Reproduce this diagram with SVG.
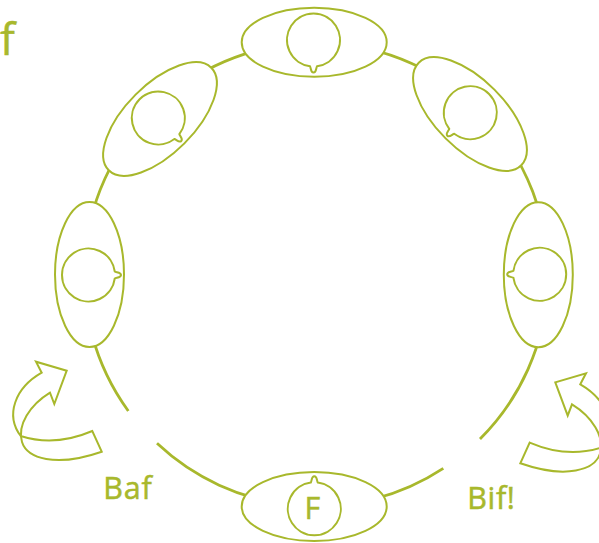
<svg xmlns="http://www.w3.org/2000/svg" xmlns:xlink="http://www.w3.org/1999/xlink" width="599" height="543" viewBox="0 0 599 543">
<style>
.ring{fill:none;stroke:#a8b82c;stroke-width:2.8}
.shell{fill:#ffffff;stroke:#a8b82c;stroke-width:2}
.bub{fill:none;stroke:#a8b82c;stroke-width:2}
.arr{fill:none;stroke:#a8b82c;stroke-width:2;stroke-linejoin:miter}
.lbl{font-family:"Open Sans","Liberation Sans",sans-serif;fill:#a8b82c;stroke:#a8b82c;stroke-width:0.5}
</style>
<defs>
<path id="bubble" d="M 3.5,26.27 A 26.5 26.5 0 1 0 -3.5,26.27 C -2.5,27.5 -3,32.5 0,32.5 C 3,32.5 2.5,27.5 3.5,26.27 Z"/>
<path id="curl" d="M 41.7,372.7 L 36,361.7 L 66.7,370.7 L 54.3,404 L 50,392.7 C 30,405 17,425 22,442 C 27,458 55,468 101.7,451.7 L 92.3,431 Q 55,447 20.7,436 C 5,415 15,388 41.7,372.7 Z"/>
</defs>
<rect width="599" height="543" fill="#ffffff"/>
<g id="connectors">
<path class="ring" d="M 443.3,468.3 A 232 232 0 0 1 157,443.3"/>
<path class="ring" d="M 480,439 A 232 232 0 1 0 128.3,411"/>
<use href="#curl" class="arr"/>
<use href="#curl" class="arr" transform="translate(622,11.6) scale(-1,1)"/>
</g>
<g id="node-top">
<ellipse class="shell" cx="314.2" cy="42.3" rx="72.5" ry="34.5"/>
<use href="#bubble" class="bub" transform="translate(313.5,40)"/>
</g>
<g id="node-top-right">
<ellipse class="shell" cx="0" cy="0" rx="72.5" ry="34.5" transform="translate(470,114) rotate(45)"/>
<use href="#bubble" class="bub" transform="translate(470.3,112.7) rotate(45)"/>
</g>
<g id="node-right">
<ellipse class="shell" cx="538.3" cy="274.7" rx="34.5" ry="72.5"/>
<use href="#bubble" class="bub" transform="translate(539.7,274.3) rotate(90)"/>
</g>
<g id="node-bottom">
<ellipse class="shell" cx="314.2" cy="506.5" rx="72.5" ry="34.5"/>
<use href="#bubble" class="bub" transform="translate(314.3,508.8) rotate(180)"/>
<text class="lbl" x="304.4" y="519" font-size="30.5">F</text>
</g>
<g id="node-left">
<ellipse class="shell" cx="89.5" cy="274.5" rx="34.5" ry="72.5"/>
<use href="#bubble" class="bub" transform="translate(88.5,275) rotate(-90)"/>
</g>
<g id="node-top-left">
<ellipse class="shell" cx="0" cy="0" rx="72.5" ry="34.5" transform="translate(160,119) rotate(-45)"/>
<use href="#bubble" class="bub" transform="translate(158.3,118) rotate(-45)"/>
</g>
<g id="labels">
<text class="lbl" x="103.3" y="499.3" font-size="30.5" letter-spacing="0.8">Baf</text>
<text class="lbl" x="467.3" y="509.3" font-size="30.5" letter-spacing="0.6">Bif!</text>
<text class="lbl" x="0" y="55" font-size="44">f</text>
</g>
</svg>
